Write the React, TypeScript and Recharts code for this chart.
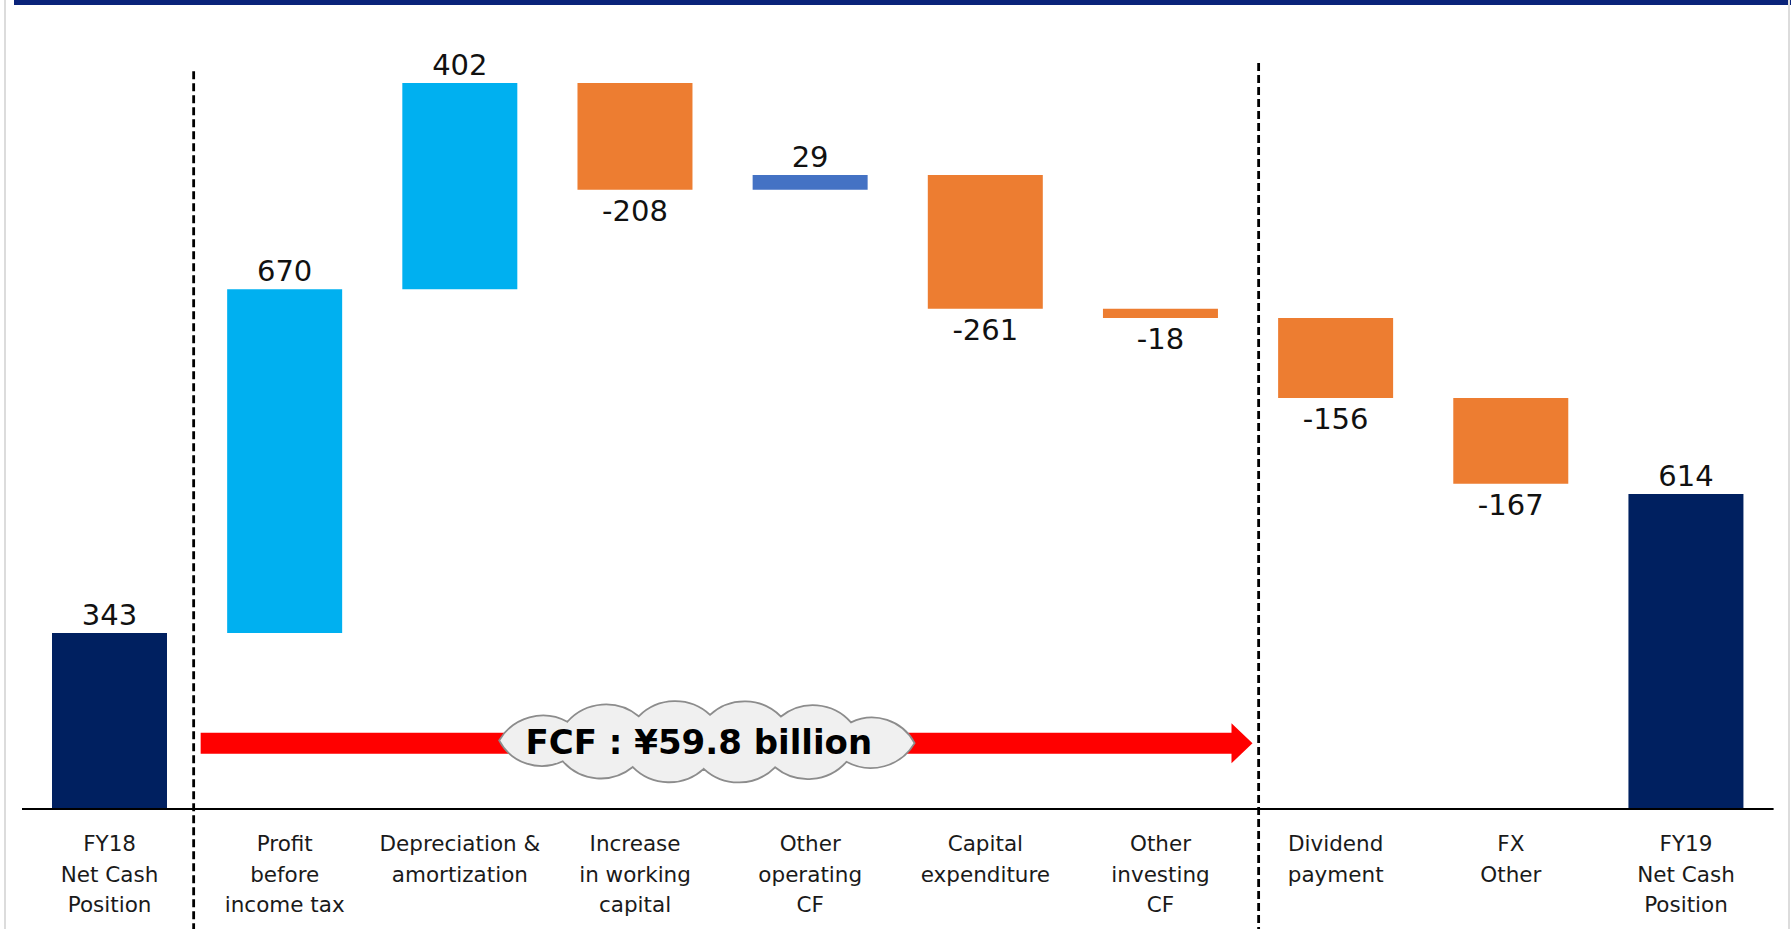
import * as React from 'react';
import { ComposedChart, Bar, Cell, XAxis, YAxis, LabelList, ReferenceLine, ReferenceDot } from 'recharts';

// cash flow bridge, ¥ billion (x10)
const categories = [
  'FY18\nNet Cash\nPosition',
  'Profit\nbefore\nincome tax',
  'Depreciation &\namortization',
  'Increase\nin working\ncapital',
  'Other\noperating\nCF',
  'Capital\nexpenditure',
  'Other\ninvesting\nCF',
  'Dividend\npayment',
  'FX\nOther',
  'FY19\nNet Cash\nPosition',
];
const values = [343, 670, 402, -208, 29, -261, -18, -156, -167, 614];
const isTotal = [true, false, false, false, false, false, false, false, false, true];

// annotations, x in category units on a hidden 0..10 axis, y in value units
const separatorX = [0.98, 7.06];
const separatorTop = [1438, 1454];
const separatorBottom = -240;
const fcfArrow = { from: 1.02, to: 7.025, level: 128 };
const fcfCloud = { x: 3.91, y: 131 };
const fcfText = 'FCF : ¥59.8 billion';

const FONT = '"DejaVu Sans", Verdana, sans-serif';

let running = 0;
const data = categories.map((name, i) => {
  const v = values[i];
  let low: number;
  let high: number;
  if (isTotal[i]) {
    low = 0;
    high = v;
    running = v;
  } else {
    low = Math.min(running, running + v);
    high = Math.max(running, running + v);
    running += v;
  }
  return { name, pos: i + 0.5, range: [low, high] };
});

const fillFor = (i: number) => {
  if (isTotal[i]) return '#002060';
  if (i === 4) return '#4472C4';
  return values[i] >= 0 ? '#00B0F0' : '#ED7D31';
};

const Tick = (props: any) => {
  const { x, y, payload } = props;
  const lines = String(payload.value).split('\n');
  return (
    <text x={x} y={y + 34} textAnchor="middle" dominantBaseline="central" fontFamily={FONT} fontSize={21.5} fill="#1a1a1a">
      {lines.map((l, k) => (
        <tspan key={k} x={x} dy={k === 0 ? 0 : 30.5}>{l}</tspan>
      ))}
    </text>
  );
};

const ValueLabel = (props: any) => {
  const { x, y, width, height, index } = props;
  const v = values[index];
  const ty = v >= 0 ? y - 18 : y + height + 21;
  return (
    <text x={x + width / 2} y={ty} textAnchor="middle" dominantBaseline="central" fontFamily={FONT} fontSize={29} fill="#111">
      {v}
    </text>
  );
};

const Arrow = (p: any) => {
  const { x1, y1, x2 } = p;
  const half = 10.5;
  const head = 20;
  const hx = x2 - 21;
  const pts = [
    [x1, y1 - half], [hx, y1 - half], [hx, y1 - head], [x2, y1],
    [hx, y1 + head], [hx, y1 + half], [x1, y1 + half],
  ].map((q) => q.join(',')).join(' ');
  return <polygon points={pts} fill="#FF0000" />;
};

const Cloud = (p: any) => {
  const { cx, cy } = p;
  const a = 208;
  const b = 27;
  const n = 12;
  // sample the ellipse and place bump anchors at equal arc length
  const samples: number[][] = [];
  for (let k = 0; k <= 720; k++) {
    const t = (k / 720) * Math.PI * 2 + 0.05;
    samples.push([cx + a * Math.cos(t), cy + b * Math.sin(t)]);
  }
  const cum = [0];
  for (let k = 1; k < samples.length; k++) {
    cum.push(cum[k - 1] + Math.hypot(samples[k][0] - samples[k - 1][0], samples[k][1] - samples[k - 1][1]));
  }
  const total = cum[cum.length - 1];
  const anchors: number[][] = [];
  let j = 0;
  for (let m = 0; m < n; m++) {
    const target = (m / n) * total;
    while (cum[j] < target) j++;
    anchors.push(samples[j]);
  }
  let d = `M${anchors[0][0]},${anchors[0][1]}`;
  for (let m = 1; m <= n; m++) {
    const q = anchors[m % n];
    const prev = anchors[m - 1];
    const c = Math.hypot(q[0] - prev[0], q[1] - prev[1]);
    const r = c * 0.72;
    d += ` A${r},${r} 0 0 1 ${q[0]},${q[1]}`;
  }
  d += ' Z';
  return (
    <g>
      <path d={d} fill="#F0F0F0" stroke="#8C8C8C" strokeWidth={1.8} />
      <text x={cx - 8} y={cy} textAnchor="middle" dominantBaseline="central" fontFamily={FONT} fontWeight="bold" fontSize={34} fill="#000">
        {fcfText}
      </text>
    </g>
  );
};

export default function App() {
  return (
    <div style={{ position: 'absolute', left: 0, top: 0, width: 1791, height: 929, background: '#fff', overflow: 'hidden' }}>
      <div style={{ position: 'absolute', left: 14, top: 0, width: 1777, height: 5, background: '#0A237A' }} />
      <div style={{ position: 'absolute', left: 4, top: 0, width: 2, height: 929, background: '#DCDCDC' }} />
      <div style={{ position: 'absolute', left: 1788, top: 0, width: 2, height: 929, background: '#DCDCDC' }} />
      <ComposedChart width={1791} height={929} data={data} margin={{ top: 39.5, right: 17.4, bottom: 10, left: 22 }}>
        <XAxis
          xAxisId="cat"
          dataKey="name"
          height={110}
          interval={0}
          axisLine={{ stroke: '#000', strokeWidth: 2 }}
          tickLine={false}
          tickSize={0}
          tickMargin={0}
          tick={<Tick />}
        />
        <XAxis xAxisId="n" dataKey="pos" type="number" domain={[0, 10]} allowDataOverflow hide />
        <YAxis yAxisId="v" domain={[0, 1500]} allowDataOverflow hide />
        <Bar xAxisId="cat" yAxisId="v" dataKey="range" barSize={115} isAnimationActive={false}>
          {data.map((_, i) => (
            <Cell key={i} fill={fillFor(i)} />
          ))}
          <LabelList dataKey="range" content={<ValueLabel />} />
        </Bar>
        {separatorX.map((x, i) => (
          <ReferenceLine
            key={i}
            xAxisId="n"
            yAxisId="v"
            ifOverflow="visible"
            segment={[{ x, y: separatorTop[i] }, { x, y: separatorBottom }]}
            stroke="#000"
            strokeWidth={2.8}
            strokeDasharray="8 4"
          />
        ))}
        <ReferenceLine
          xAxisId="n"
          yAxisId="v"
          ifOverflow="visible"
          segment={[{ x: fcfArrow.from, y: fcfArrow.level }, { x: fcfArrow.to, y: fcfArrow.level }]}
          shape={(p: any) => <Arrow {...p} />}
        />
        <ReferenceDot
          xAxisId="n"
          yAxisId="v"
          ifOverflow="visible"
          x={fcfCloud.x}
          y={fcfCloud.y}
          r={1}
          shape={(p: any) => <Cloud {...p} />}
        />
      </ComposedChart>
    </div>
  );
}
